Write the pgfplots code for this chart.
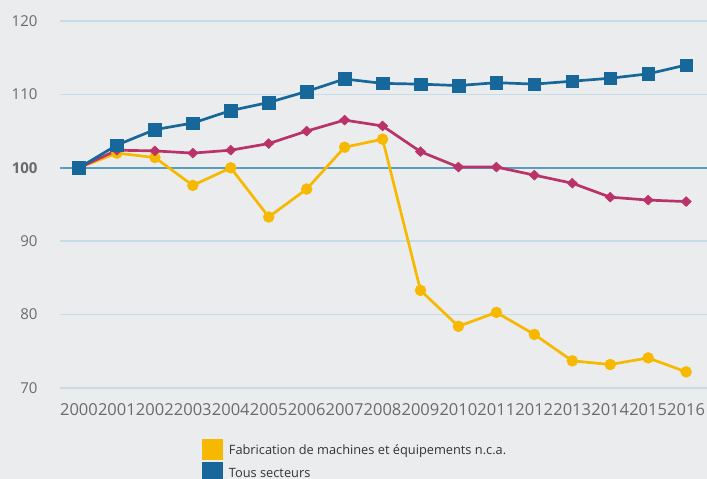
\documentclass[border=0pt]{standalone}
\usepackage{pgfplots}
\pgfplotsset{compat=1.18}
\usepackage{fontspec}
\setmainfont{Open Sans}
\definecolor{bgc}{HTML}{EBECEE}
\definecolor{gridc}{HTML}{C4DDE8}
\definecolor{hundc}{HTML}{5A9EBF}
\definecolor{bluec}{HTML}{17679A}
\definecolor{magc}{HTML}{B93368}
\definecolor{yelc}{HTML}{F7B900}
\definecolor{tickc}{HTML}{6B6B6B}
\definecolor{legc}{HTML}{333333}
\begin{document}
\begin{tikzpicture}[x=1pt,y=1pt]
\fill[bgc] (0,0) rectangle (707,479);
\useasboundingbox (0,0) rectangle (707,479);
\clip (0,0) rectangle (707,479);
\begin{axis}[
  at={(60pt,91pt)}, anchor=south west,
  scale only axis, width=647pt, height=367pt,
  xmin=1999.5, xmax=2016.55, ymin=70, ymax=120,
  axis line style={draw=none},
  xtick={2000,...,2016},
  ytick={70,80,90,110,120},
  extra y ticks={100},
  extra y tick style={major grid style={hundc, line width=1.6pt}, yticklabel style={font=\fontsize{15}{15}\selectfont\bfseries}},
  ymajorgrids,
  major grid style={gridc, line width=1.5pt},
  major tick length=0pt,
  tick label style={tickc},
  yticklabel style={font=\fontsize{15}{15}\selectfont, xshift=-19pt},
  xticklabel style={font=\fontsize{16.5}{16.5}\selectfont, yshift=-12pt},
  /pgf/number format/assume math mode=true,
  /pgf/number format/1000 sep={},
  clip=false,
  legend style={at={(0.2195,-0.1390)}, anchor=north west, draw=none, fill=none,
     font=\fontsize{12.8}{13}\selectfont\color{legc}, row sep=2pt, inner sep=0pt},
  legend cell align=left,
]
\addplot[yelc, line width=2.7pt, mark=*, mark size=5.5pt, mark options={fill=yelc, draw=yelc, line width=0.4pt},
  legend image code/.code={\fill[yelc] (0pt,-8pt) rectangle (18pt,10pt); \path (22pt,0pt);}] coordinates {
(2000,100) (2001,102.0) (2002,101.4) (2003,97.6) (2004,100.0) (2005,93.3) (2006,97.1) (2007,102.8) (2008,103.9)
(2009,83.3) (2010,78.4) (2011,80.3) (2012,77.3) (2013,73.7) (2014,73.2) (2015,74.1) (2016,72.2)};
\addlegendentry{Fabrication de machines et équipements n.c.a.}
\addplot[magc, line width=2.7pt, mark=diamond*, mark size=5pt, mark options={fill=magc, draw=magc, line width=0.4pt, xscale=1.4}, forget plot] coordinates {
(2000,100) (2001,102.4) (2002,102.3) (2003,102.0) (2004,102.4) (2005,103.3) (2006,105.0) (2007,106.5) (2008,105.7)
(2009,102.2) (2010,100.1) (2011,100.1) (2012,99.0) (2013,97.9) (2014,96.0) (2015,95.6) (2016,95.4)};
\addplot[bluec, line width=2.7pt, mark=square*, mark size=6.3pt, mark options={fill=bluec, draw=bluec, line width=0.4pt},
  legend image code/.code={\fill[bluec] (0pt,-8pt) rectangle (18pt,10pt); \path (22pt,0pt);}] coordinates {
(2000,100) (2001,103.1) (2002,105.2) (2003,106.1) (2004,107.8) (2005,108.9) (2006,110.4) (2007,112.1) (2008,111.5)
(2009,111.4) (2010,111.2) (2011,111.6) (2012,111.4) (2013,111.8) (2014,112.2) (2015,112.8) (2016,114.0)};
\addlegendentry{Tous secteurs}
\end{axis}
\end{tikzpicture}
\end{document}
